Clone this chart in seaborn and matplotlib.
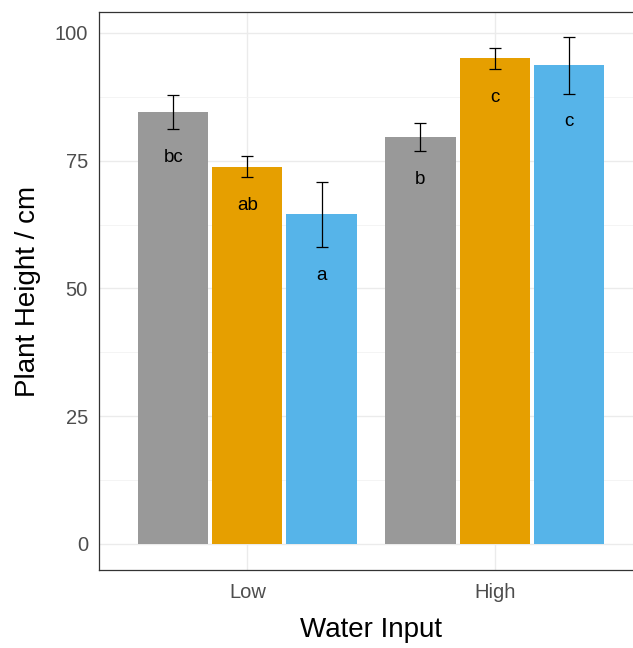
import matplotlib
matplotlib.use("Agg")
import matplotlib.pyplot as plt
from matplotlib.ticker import MultipleLocator
import seaborn as sns
import pandas as pd

# Plant height by water input and treatment
water = ["Low", "Low", "Low", "High", "High", "High"]
treatment = ["T1", "T2", "T3", "T1", "T2", "T3"]
height_mean = [84.5, 73.8, 64.5, 79.6, 95.0, 93.7]
height_se = [3.3, 2.05, 6.4, 2.75, 2.05, 5.55]
letters = ["bc", "ab", "a", "b", "c", "c"]

water_levels = ["Low", "High"]
treatment_levels = ["T1", "T2", "T3"]
palette = ["#999999", "#E69F00", "#56B4E9"]

df = pd.DataFrame({"water": water, "treatment": treatment,
                   "height": height_mean, "se": height_se, "letter": letters})

sns.set_style("white")
plt.rcParams["font.family"] = ["Liberation Sans", "DejaVu Sans"]

fig = plt.figure(figsize=(6.33, 6.48), dpi=100)
# panel runs slightly past the right edge of the canvas
ax = fig.add_axes([99 / 633, 1 - 570 / 648, 544 / 633, 558 / 648])

sns.barplot(data=df, x="water", y="height", hue="treatment",
            order=water_levels, hue_order=treatment_levels,
            palette=palette, saturation=1, width=0.9, gap=0.055, linewidth=0,
            errorbar=None, legend=False, ax=ax, zorder=2)

# error bars and significance letters, placed on each bar centre
for lvl, cont in zip(treatment_levels, ax.containers):
    for wl, bar in zip(water_levels, cont):
        row = df[(df.water == wl) & (df.treatment == lvl)].iloc[0]
        xc = bar.get_x() + bar.get_width() / 2
        ax.errorbar(xc, row.height, yerr=row.se, fmt="none", ecolor="black",
                    elinewidth=0.9, capsize=4, capthick=0.9, zorder=3)
        ax.text(xc, row.height - row.se - 5.5, row.letter, ha="center",
                va="center", fontsize=13.5, color="black", zorder=4)

ax.set_xlim(-0.6, 1.6)
ax.set_ylim(-5.1, 104.1)
ax.yaxis.set_major_locator(MultipleLocator(25))
ax.yaxis.set_minor_locator(MultipleLocator(12.5))
ax.grid(True, which="major", color="#EBEBEB", linewidth=1.0, zorder=0)
ax.grid(True, which="minor", axis="y", color="#F2F2F2", linewidth=0.6, zorder=0)
ax.set_axisbelow(True)

for s in ax.spines.values():
    s.set_color("#333333")
    s.set_linewidth(0.9)

ax.tick_params(axis="both", which="major", length=4.5, width=0.9,
               color="#333333", labelcolor="#4D4D4D", labelsize=14.5)
ax.tick_params(axis="y", which="major", pad=3.5)
ax.tick_params(axis="x", which="major", pad=5)
ax.tick_params(axis="both", which="minor", length=0)

ax.set_xlabel("Water Input", fontsize=20, color="black", labelpad=11)
ax.set_ylabel("Plant Height / cm", fontsize=20, color="black", labelpad=10)

fig.savefig("out.png", dpi=100)
